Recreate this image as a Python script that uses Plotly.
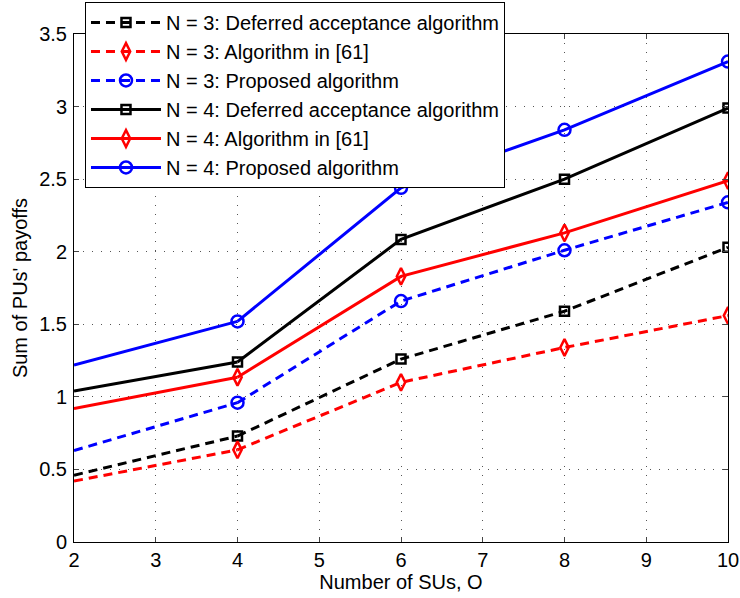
import plotly.graph_objects as go

x_vals = [2, 4, 6, 8, 10]

n3_da = [0.46, 0.73, 1.26, 1.59, 2.03]
n3_alg61 = [0.42, 0.635, 1.10, 1.34, 1.56]
n3_prop = [0.63, 0.96, 1.66, 2.01, 2.34]
n4_da = [1.04, 1.24, 2.085, 2.50, 2.99]
n4_alg61 = [0.92, 1.135, 1.83, 2.13, 2.49]
n4_prop = [1.22, 1.52, 2.44, 2.84, 3.31]

x_ticks = [2, 3, 4, 5, 6, 7, 8, 9, 10]
y_ticks = [0, 0.5, 1, 1.5, 2, 2.5, 3, 3.5]
y_tick_text = ["0", "0.5", "1", "1.5", "2", "2.5", "3", "3.5"]

series = [
    ("N = 3: Deferred acceptance algorithm", n3_da, "black", "9px,6px", "square-open", 9),
    ("N = 3: Algorithm in [61]", n3_alg61, "red", "9px,6px", "diamond-tall-open", 12),
    ("N = 3: Proposed algorithm", n3_prop, "blue", "9px,6px", "circle-open", 12),
    ("N = 4: Deferred acceptance algorithm", n4_da, "black", "solid", "square-open", 9),
    ("N = 4: Algorithm in [61]", n4_alg61, "red", "solid", "diamond-tall-open", 12),
    ("N = 4: Proposed algorithm", n4_prop, "blue", "solid", "circle-open", 12),
]

fig = go.Figure()
for name, ys, color, dash, sym, size in series:
    # first segment without a marker at the axis edge
    fig.add_trace(go.Scatter(
        x=x_vals[:2], y=ys[:2], mode="lines", showlegend=False,
        line=dict(color=color, width=3, dash=dash), hoverinfo="skip"))
    fig.add_trace(go.Scatter(
        x=x_vals[1:], y=ys[1:], mode="lines+markers", name=name,
        line=dict(color=color, width=3, dash=dash),
        marker=dict(symbol=sym, size=size, color=color, line=dict(color=color, width=2.5))))

font_family = "Liberation Sans, Arial, sans-serif"
axis_font = dict(family=font_family, size=20, color="black")

fig.update_layout(
    width=740, height=598,
    margin=dict(l=74, r=12, t=34, b=56, autoexpand=False),
    paper_bgcolor="white", plot_bgcolor="white",
    font=axis_font,
    showlegend=True,
    legend=dict(
        x=0.0168, y=1.063, xanchor="left", yanchor="top",
        bgcolor="white", bordercolor="black", borderwidth=1,
        font=dict(family=font_family, size=20, color="black"),
        tracegroupgap=0, itemwidth=70,
    ),
    xaxis=dict(
        range=[2, 10], tickvals=x_ticks, ticks="inside", ticklen=5,
        showline=True, linecolor="black", linewidth=1, mirror="ticks",
        showgrid=True, gridcolor="#555", gridwidth=1, griddash="1px,8px",
        zeroline=False, tickfont=axis_font, automargin=False,
        title=dict(text="Number of SUs, O", font=axis_font, standoff=2),
    ),
    yaxis=dict(
        range=[0, 3.5], tickvals=y_ticks, ticktext=y_tick_text, ticks="inside", ticklen=5,
        showline=True, linecolor="black", linewidth=1, mirror="ticks",
        showgrid=True, gridcolor="#555", gridwidth=1, griddash="1px,8px",
        zeroline=False, tickfont=axis_font, automargin=False, ticklabelstandoff=2,
        title=dict(text="Sum of PUs' payoffs", font=axis_font, standoff=6),
    ),
)

fig.write_html("out.html", config={"displayModeBar": False},
               post_script="document.body.style.margin='0px';")
